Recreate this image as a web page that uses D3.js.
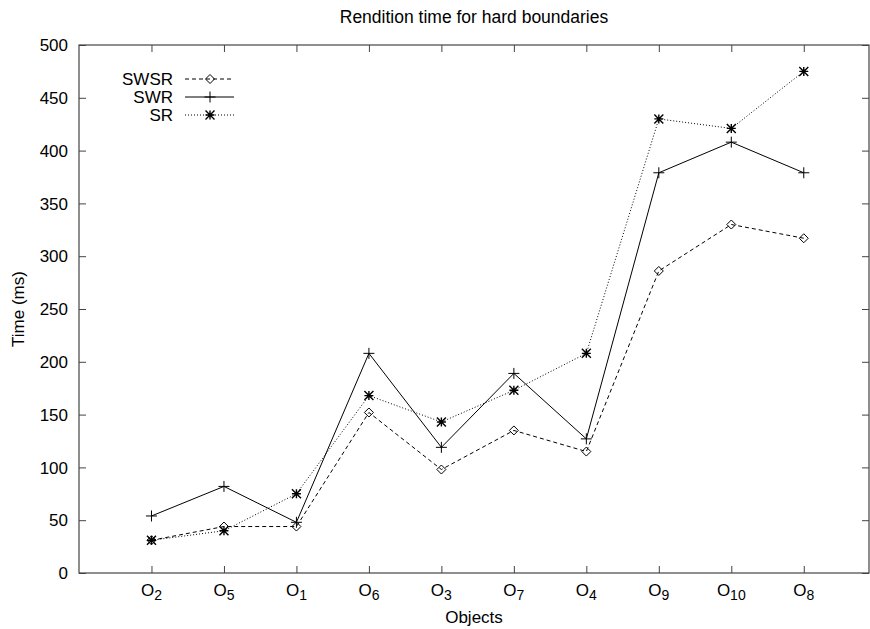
<!DOCTYPE html>
<html>
<head>
<meta charset="utf-8">
<script src="https://cdn.jsdelivr.net/npm/d3@7"></script>
<style>
  body { margin: 0; background: #fff; }
  text { font-family: "Liberation Sans", Arial, sans-serif; fill: #000; }
</style>
</head>
<body>
<script>
// objects on the x axis, as base letter + subscript
const categories = ["2", "5", "1", "6", "3", "7", "4", "9", "10", "8"];
const swsr = [31, 44, 44, 152, 98, 135, 115, 286, 330, 317];
const swr = [54, 82, 48, 208, 119, 189, 127, 379, 408, 379];
const sr = [31, 40, 75, 168, 143, 173, 208, 430, 421, 475];
const yTicks = [0, 50, 100, 150, 200, 250, 300, 350, 400, 450, 500];

const series = [
    {name: "SWSR", values: swsr, dash: "4,3", marker: "diamond"},
    {name: "SWR", values: swr, dash: null, marker: "plus"},
    {name: "SR", values: sr, dash: "1,2", marker: "star"}
];

const width = 870, height = 629;
const margin = {left: 79, right: 1, top: 45, bottom: 56};
const axisColor = "#444";

const svg = d3.select("body").append("svg")
    .attr("width", width)
    .attr("height", height);

const x = d3.scaleLinear()
    .domain([0, 10.9])
    .range([margin.left, width - margin.right]);

const y = d3.scaleLinear()
    .domain([0, 500])
    .range([height - margin.bottom, margin.top]);

// frame
svg.append("rect")
    .attr("x", x(0))
    .attr("y", y(500))
    .attr("width", x(10.9) - x(0))
    .attr("height", y(0) - y(500))
    .attr("fill", "none")
    .attr("stroke", axisColor)
    .attr("stroke-width", 1.2);

// y axis (left) and mirrored ticks on the right
const yAxis = svg.append("g")
    .attr("transform", "translate(" + x(0) + ",0)")
    .call(d3.axisRight(y).tickValues(yTicks).tickSize(7).tickFormat(""));
yAxis.select(".domain").remove();
yAxis.selectAll("line").attr("stroke", axisColor);

const yAxisR = svg.append("g")
    .attr("transform", "translate(" + x(10.9) + ",0)")
    .call(d3.axisLeft(y).tickValues(yTicks).tickSize(7).tickFormat(""));
yAxisR.select(".domain").remove();
yAxisR.selectAll("line").attr("stroke", axisColor);

svg.selectAll(".ylab")
    .data(yTicks)
    .enter().append("text")
    .attr("class", "ylab")
    .attr("x", x(0) - 11)
    .attr("y", d => y(d))
    .attr("dy", "0.36em")
    .attr("text-anchor", "end")
    .attr("font-size", 17)
    .text(d => d);

// x axis bottom + mirrored top
const xPos = categories.map((c, i) => i + 1);

const xAxis = svg.append("g")
    .attr("transform", "translate(0," + y(0) + ")")
    .call(d3.axisTop(x).tickValues(xPos).tickSize(7).tickFormat(""));
xAxis.select(".domain").remove();
xAxis.selectAll("line").attr("stroke", axisColor);

const xAxisT = svg.append("g")
    .attr("transform", "translate(0," + y(500) + ")")
    .call(d3.axisBottom(x).tickValues(xPos).tickSize(7).tickFormat(""));
xAxisT.select(".domain").remove();
xAxisT.selectAll("line").attr("stroke", axisColor);

const xl = svg.selectAll(".xlab")
    .data(categories)
    .enter().append("text")
    .attr("class", "xlab")
    .attr("x", (d, i) => x(i + 1))
    .attr("y", y(0) + 23)
    .attr("text-anchor", "middle")
    .attr("font-size", 17);
xl.append("tspan").text("O");
xl.append("tspan").attr("font-size", 14).attr("dy", 4).text(d => d);

// titles
svg.append("text")
    .attr("x", (x(0) + x(10.9)) / 2)
    .attr("y", 23)
    .attr("text-anchor", "middle")
    .attr("font-size", 17.5)
    .text("Rendition time for hard boundaries");

svg.append("text")
    .attr("x", (x(0) + x(10.9)) / 2)
    .attr("y", 623)
    .attr("text-anchor", "middle")
    .attr("font-size", 17)
    .text("Objects");

svg.append("text")
    .attr("transform", "translate(24," + (y(250)) + ") rotate(-90)")
    .attr("text-anchor", "middle")
    .attr("font-size", 17)
    .text("Time (ms)");

// markers
function drawMarker(g, type, cx, cy) {
    const s = 4.5;
    if (type === "diamond") {
        g.append("path")
            .attr("d", "M" + cx + "," + (cy - s) + "L" + (cx + s) + "," + cy + "L" + cx + "," + (cy + s) + "L" + (cx - s) + "," + cy + "Z")
            .attr("fill", "none").attr("stroke", "#000").attr("stroke-width", 1);
    } else if (type === "plus") {
        g.append("path")
            .attr("d", "M" + (cx - s - 1) + "," + cy + "H" + (cx + s + 1) + "M" + cx + "," + (cy - s - 1) + "V" + (cy + s + 1))
            .attr("stroke", "#000").attr("stroke-width", 1);
    } else {
        g.append("path")
            .attr("d", "M" + (cx - s) + "," + cy + "H" + (cx + s) + "M" + cx + "," + (cy - s) + "V" + (cy + s) +
                "M" + (cx - s) + "," + (cy - s) + "L" + (cx + s) + "," + (cy + s) +
                "M" + (cx - s) + "," + (cy + s) + "L" + (cx + s) + "," + (cy - s))
            .attr("stroke", "#000").attr("stroke-width", 1.4);
    }
}

const line = d3.line()
    .x((d, i) => x(i + 1))
    .y(d => y(d));

series.forEach(s => {
    const g = svg.append("g");
    g.append("path")
        .attr("d", line(s.values))
        .attr("fill", "none")
        .attr("stroke", "#000")
        .attr("stroke-width", 1)
        .attr("stroke-dasharray", s.dash);
    s.values.forEach((v, i) => drawMarker(g, s.marker, x(i + 1), y(v)));
});

// legend
const legend = svg.append("g");
series.forEach((s, i) => {
    const ly = 79 + i * 18;
    legend.append("text")
        .attr("x", 173)
        .attr("y", ly)
        .attr("dy", "0.36em")
        .attr("text-anchor", "end")
        .attr("font-size", 17)
        .text(s.name);
    legend.append("line")
        .attr("x1", 185).attr("x2", 234)
        .attr("y1", ly).attr("y2", ly)
        .attr("stroke", "#000")
        .attr("stroke-width", 1)
        .attr("stroke-dasharray", s.dash);
    drawMarker(legend, s.marker, 210, ly);
});
</script>
</body>
</html>
